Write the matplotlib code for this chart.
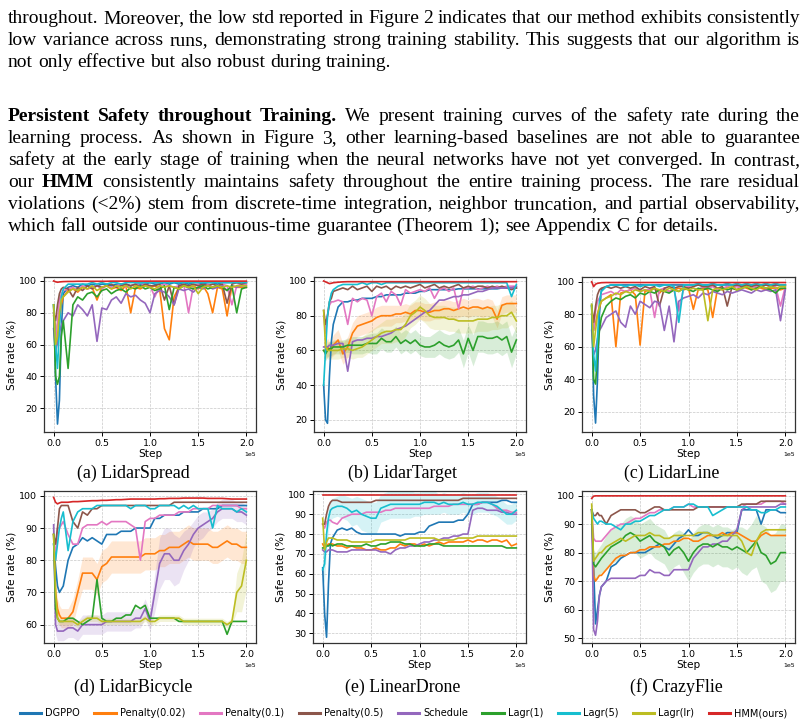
import numpy as np
import matplotlib
matplotlib.use("Agg")
import matplotlib.pyplot as plt

# ---------------- data ----------------
STEPS = [0, 2000, 4000, 6000, 8000] + list(range(10000, 200001, 5000))

METHODS = ["DGPPO", "Penalty(0.02)", "Penalty(0.1)", "Penalty(0.5)", "Schedule",
           "Lagr(1)", "Lagr(5)", "Lagr(lr)", "HMM(ours)"]
COLORS = ["#1f77b4", "#ff7f0e", "#e377c2", "#8c564b", "#9467bd",
          "#2ca02c", "#17becf", "#bcbd22", "#d62728"]
PANEL_TITLES = ["(a) LidarSpread", "(b) LidarTarget", "(c) LidarLine",
                "(d) LidarBicycle", "(e) LinearDrone", "(f) CrazyFlie"]
Y_TICKS = [[20, 40, 60, 80, 100], [20, 40, 60, 80, 100], [20, 40, 60, 80, 100],
           [60, 70, 80, 90, 100], [30, 40, 50, 60, 70, 80, 90, 100],
           [50, 60, 70, 80, 90, 100]]
Y_LIMS = [(5, 102.5), (13, 102.3), (7.5, 102.9), (54.3, 101.5), (25.1, 101.7), (48.3, 101.6)]

# (a) LidarSpread
A_DGPPO = [85, 40, 10, 25, 70, 92, 96, 97, 96, 98, 97,
           98, 97, 98, 98, 97, 98, 98, 98, 97, 98, 98,
           98, 99, 98, 98, 99, 98, 99, 98, 99, 98, 99,
           99, 98, 99, 99, 98, 99, 99, 99, 99, 99, 99]
A_P002 = [78, 72, 60, 75, 85, 90, 94, 95, 93, 96, 95,
          96, 88, 96, 97, 95, 96, 94, 97, 80, 96, 95,
          97, 96, 97, 95, 70, 63, 90, 96, 97, 96, 97,
          95, 97, 92, 80, 96, 95, 78, 97, 96, 96, 96]
A_P01 = [80, 60, 75, 88, 92, 94, 95, 96, 94, 97, 95,
         96, 97, 95, 97, 96, 97, 98, 96, 97, 98, 97,
         98, 97, 90, 97, 98, 97, 96, 97, 98, 80, 97,
         98, 97, 98, 96, 97, 98, 97, 85, 97, 98, 98]
A_P05 = [80, 75, 85, 92, 95, 96, 95, 90, 96, 94, 97,
         95, 97, 96, 97, 98, 96, 97, 98, 97, 98, 96,
         98, 97, 97, 98, 88, 97, 85, 97, 98, 97, 98,
         97, 98, 97, 98, 97, 98, 86, 98, 99, 98, 99]
A_SCH = [70, 55, 62, 68, 72, 75, 80, 78, 85, 82, 78,
         85, 62, 83, 82, 88, 90, 86, 92, 90, 91, 88,
         86, 80, 92, 94, 93, 90, 85, 95, 94, 95, 93,
         96, 95, 97, 95, 96, 97, 94, 97, 96, 97, 97]
A_L1 = [85, 40, 35, 40, 65, 75, 45, 85, 90, 88, 92,
        93, 90, 94, 95, 92, 94, 95, 93, 96, 95, 97,
        95, 96, 94, 95, 97, 82, 96, 95, 97, 96, 95,
        96, 97, 95, 96, 97, 96, 94, 97, 80, 95, 96]
A_L5 = [85, 60, 45, 70, 90, 95, 98, 98, 98, 98, 98,
        99, 98, 99, 98, 99, 99, 98, 99, 99, 99, 99,
        99, 99, 99, 99, 99, 99, 99, 99, 99, 99, 99,
        99, 99, 99, 99, 99, 99, 99, 99, 99, 99, 99]
A_LLR = [85, 60, 65, 80, 88, 90, 93, 95, 94, 96, 95,
         97, 94, 96, 97, 95, 97, 96, 97, 95, 97, 96,
         97, 96, 95, 97, 96, 97, 96, 95, 97, 96, 97,
         92, 96, 97, 96, 97, 96, 97, 96, 97, 97, 97]
A_HMM = [100, 99.5, 99.2, 99.4, 99.5, 99.6, 99.7, 99.7, 99.8, 99.8, 99.8,
         99.8, 99.8, 99.8, 99.8, 99.9, 99.9, 99.9, 99.9, 99.9, 99.9, 99.9,
         99.9, 99.9, 99.9, 99.9, 99.9, 99.9, 99.9, 99.9, 99.9, 99.9, 99.9,
         99.9, 99.9, 99.9, 99.9, 99.9, 99.9, 99.9, 99.9, 99.9, 99.9, 99.9]

# (b) LidarTarget
B_DGPPO = [40, 20, 18, 45, 65, 75, 85, 88, 88, 89, 89,
           90, 90, 90, 91, 91, 92, 92, 92, 92, 93, 93,
           93, 94, 94, 95, 95, 95, 95, 95, 95, 95.5, 95.5,
           95.5, 95.5, 95.5, 95.5, 95.5, 95.5, 95.5, 96, 96, 96, 96]
B_P002 = [60, 60, 62, 60, 61, 63, 66, 58, 62, 70, 74,
          75, 76, 77, 79, 80, 80, 80, 81, 81, 82, 81,
          83, 83, 82, 82, 83, 83, 84, 84, 83, 84, 85,
          84, 85, 85, 84, 85, 84, 78, 86, 87, 87, 87]
B_P01 = [80, 70, 80, 86, 88, 88, 89, 88, 75, 90, 88,
         90, 89, 80, 91, 93, 88, 94, 92, 86, 95, 93,
         94, 95, 94, 96, 90, 95, 96, 94, 96, 84, 96,
         96, 97, 95, 96, 97, 96, 97, 96, 97, 97, 97]
B_P05 = [83, 75, 80, 88, 90, 94, 95, 96, 95, 97, 95,
         96, 97, 94, 97, 96, 97, 95, 97, 96, 97, 96,
         97, 98, 96, 97, 98, 96, 97, 96, 97, 98, 96,
         97, 96, 97, 97, 96, 97, 96, 97, 96, 95, 96]
B_SCH = [62, 62, 62, 63, 63, 63, 64, 64, 48, 65, 66,
         66, 67, 67, 68, 68, 69, 70, 72, 73, 74, 76,
         78, 80, 82, 83, 86, 89, 89, 90, 91, 91, 92,
         92, 93, 94, 94, 95, 96, 96, 96, 96, 96, 97]
B_L1 = [60, 58, 60, 61, 61, 62, 62, 62, 63, 63, 63,
        63, 64, 64, 64, 67, 65, 65, 68, 64, 66, 64,
        66, 63, 62, 62, 63, 65, 63, 62, 63, 66, 58,
        67, 60, 68, 68, 67, 67, 68, 66, 68, 59, 66]
B_L5 = [40, 60, 80, 88, 93, 95, 97, 98, 98, 98, 98,
        99, 98, 99, 99, 98, 99, 99, 99, 99, 99, 99,
        99, 99, 99, 99, 99, 99, 99, 99, 99, 99, 99,
        99, 99, 99, 99, 99, 99, 99, 99, 99, 91, 98]
B_LLR = [83, 62, 60, 60, 60, 60, 60, 61, 61, 60, 61,
         62, 64, 66, 68, 70, 71, 71, 72, 72, 75, 80,
         82, 85, 83, 80, 79, 79, 79, 78, 78, 77, 77,
         77, 77, 78, 78, 78, 79, 79, 80, 80, 82, 77]
B_HMM = [100, 99.5, 99, 98.5, 98.7, 99, 99.3, 99.5, 99.6, 99.6, 99.6,
         99.6, 99.6, 99.6, 99.6, 99.6, 99.6, 99.6, 99.6, 99.6, 99.6, 99.6,
         99.6, 99.6, 99.6, 99.6, 99.6, 99.6, 99.6, 99.6, 99.6, 99.6, 99.6,
         99.6, 99.6, 99.6, 99.6, 99.6, 99.6, 99.6, 99.6, 99.6, 99.6, 99.6]
B_P002_STD = [5, 5, 5, 5, 5, 6, 6, 6, 6, 6, 6,
              6, 6, 6, 6, 6, 6, 6, 5, 5, 5, 5,
              5, 5, 5, 5, 5, 5, 5, 5, 5, 5, 5,
              5, 5, 5, 5, 5, 5, 5, 5, 5, 5, 5]
B_L1_STD = [3, 4, 4, 4, 4, 4, 4, 4, 4, 5, 5,
            5, 5, 6, 6, 6, 6, 6, 6, 6, 6, 6,
            6, 6, 6, 6, 7, 7, 7, 7, 7, 7, 8,
            8, 9, 9, 9, 9, 9, 9, 9, 9, 9, 8]
B_LLR_STD = [5, 5, 5, 5, 5, 5, 5, 5, 5, 5, 5,
             6, 6, 6, 6, 6, 7, 7, 7, 7, 7, 7,
             7, 7, 7, 7, 7, 7, 7, 7, 7, 7, 7,
             7, 7, 7, 7, 7, 7, 7, 7, 7, 7, 7]

# (c) LidarLine
C_DGPPO = [85, 30, 13, 40, 80, 95, 97, 98, 98, 98, 98,
           98, 98, 98, 98, 98, 98, 98, 98, 98, 98, 98,
           98, 98, 98, 98, 98, 98, 98, 98, 98, 98, 98,
           98, 98, 98, 98, 98, 98, 98, 98, 98, 98, 98]
C_P002 = [80, 70, 75, 80, 84, 88, 90, 92, 60, 93, 94,
          95, 92, 61, 94, 95, 96, 93, 96, 94, 95, 96,
          95, 96, 83, 95, 96, 95, 78, 96, 95, 97, 96,
          95, 97, 96, 95, 97, 96, 95, 96, 96, 95, 96]
C_P01 = [80, 70, 82, 88, 90, 92, 93, 94, 92, 95, 94,
         95, 96, 94, 95, 95, 78, 95, 96, 94, 95, 82,
         96, 97, 96, 95, 97, 96, 97, 95, 96, 97, 96,
         97, 96, 97, 96, 97, 97, 96, 97, 97, 85, 97]
C_P05 = [85, 75, 85, 92, 95, 96, 97, 96, 97, 96, 97,
         96, 97, 95, 97, 96, 97, 85, 96, 97, 96, 97,
         97, 96, 97, 98, 97, 97, 98, 96, 97, 85, 97,
         98, 97, 98, 97, 98, 97, 98, 97, 98, 98, 98]
C_SCH = [70, 55, 58, 65, 70, 72, 78, 80, 82, 75, 72,
         85, 80, 88, 86, 84, 88, 87, 70, 85, 63, 88,
         90, 91, 92, 90, 93, 92, 94, 93, 92, 94, 93,
         94, 95, 94, 93, 95, 94, 95, 94, 95, 76, 95]
C_L1 = [86, 40, 37, 55, 70, 78, 85, 88, 90, 89, 91,
        92, 90, 93, 92, 94, 93, 95, 94, 93, 95, 94,
        96, 95, 94, 96, 95, 96, 95, 94, 96, 95, 96,
        95, 96, 97, 95, 96, 97, 96, 95, 93, 96, 96]
C_L5 = [85, 55, 45, 65, 88, 94, 97, 98, 98, 98, 97,
        98, 98, 97, 98, 98, 98, 97, 98, 98, 97, 75,
        98, 98, 98, 99, 98, 98, 99, 98, 98, 99, 98,
        99, 98, 99, 98, 99, 98, 99, 98, 99, 98, 98]
C_LLR = [86, 60, 70, 80, 85, 88, 90, 91, 93, 92, 94,
         93, 95, 94, 95, 94, 96, 95, 94, 96, 95, 94,
         96, 95, 96, 95, 95, 76, 95, 96, 95, 96, 97,
         95, 96, 97, 96, 95, 97, 96, 97, 96, 97, 97]
C_HMM = [100, 97, 98.5, 99, 99.2, 99.4, 99.5, 99.5, 99.5, 99.5, 99.5,
         99.5, 99.5, 99.5, 99.5, 99.5, 99.5, 99.5, 99.5, 99.5, 99.5, 99.5,
         99.5, 99.5, 99.5, 99.5, 99.5, 99.5, 99.5, 99.5, 99.5, 99.5, 99.5,
         99.5, 99.5, 99.5, 99.5, 99.5, 99.5, 99.5, 99.5, 99.5, 99.5, 99.5]

# (d) LidarBicycle
D_DGPPO = [85, 78, 72, 70, 71, 72, 80, 84, 85, 87, 86,
           87, 86, 85, 88, 88, 88, 89, 89, 89, 90, 90,
           90, 90, 93, 93, 94, 94, 94, 94, 95, 95, 95,
           95, 96, 96, 96, 96, 97, 97, 97, 97, 97, 97]
D_P002 = [88, 70, 65, 63, 62, 62, 62, 64, 70, 76, 76,
          76, 74, 78, 79, 81, 81, 81, 81, 81, 81, 81,
          82, 82, 82, 83, 83, 84, 84, 84, 85, 86, 85,
          85, 85, 85, 84, 84, 85, 86, 85, 85, 84, 84]
D_P01 = [88, 80, 90, 90, 91, 92, 88, 85, 85, 90, 91,
         91, 91, 92, 91, 92, 92, 92, 92, 91, 90, 80,
         92, 93, 93, 94, 94, 94, 94, 95, 95, 95, 96,
         96, 96, 96, 97, 97, 97, 97, 97, 97, 96, 96]
D_P05 = [88, 85, 90, 96, 97, 97, 97, 92, 90, 95, 94,
         96, 96, 97, 97, 97, 97, 97, 97, 97, 97, 97,
         97, 97, 97, 97, 97, 97, 98, 98, 98, 98, 98,
         98, 98, 98, 98, 98, 98, 98, 98, 98, 98, 98]
D_SCH = [91, 60, 58, 58, 58, 58, 59, 59, 58, 60, 60,
         60, 60, 60, 61, 61, 61, 61, 61, 61, 62, 62,
         65, 61, 70, 79, 82, 82, 80, 80, 83, 85, 88,
         90, 91, 92, 93, 95, 96, 96, 96, 95, 95, 94]
D_L1 = [88, 65, 62, 61, 61, 61, 62, 62, 61, 60, 61,
        62, 74, 62, 61, 61, 62, 62, 63, 63, 66, 65,
        66, 62, 62, 62, 62, 62, 62, 61, 61, 61, 61,
        61, 61, 61, 61, 61, 61, 57, 61, 61, 61, 61]
D_L5 = [85, 80, 85, 90, 93, 95, 83, 92, 95, 96, 96,
        96, 97, 97, 97, 97, 97, 97, 97, 96, 97, 97,
        97, 96, 96, 97, 97, 97, 97, 96, 97, 96, 97,
        96, 96, 96, 90, 97, 96, 96, 96, 95, 96, 95]
D_LLR = [88, 70, 62, 61, 61, 61, 61, 61, 60, 61, 62,
         62, 62, 61, 61, 61, 61, 61, 61, 61, 61, 61,
         62, 61, 61, 62, 62, 62, 62, 62, 61, 61, 61,
         61, 61, 61, 61, 61, 61, 60, 61, 70, 72, 80]
D_HMM = [99.5, 98, 97.5, 97.8, 98, 98, 98, 98.2, 98.2, 98.3, 98.4,
         98.5, 98.5, 98.6, 98.6, 98.7, 98.8, 98.8, 98.9, 99, 99, 99,
         99, 99, 99, 99.1, 99.1, 99.2, 99.2, 99.2, 99.3, 99.3, 99.3,
         99.3, 99.3, 99.2, 99.2, 99.2, 99.2, 99.1, 99, 99, 99, 99]
D_P002_STD = [3, 3, 3, 3, 3, 3, 3, 4, 4, 5, 5,
              5, 5, 5, 5, 5, 5, 5, 5, 5, 5, 5,
              5, 5, 5, 5, 5, 5, 5, 5, 5, 5, 5,
              5, 5, 5, 5, 5, 5, 5, 5, 5, 5, 5]
D_SCH_STD = [2, 3, 3, 3, 3, 3, 3, 3, 3, 3, 3,
             3, 3, 3, 3, 3, 3, 3, 3, 3, 3, 3,
             3, 3, 6, 8, 8, 8, 8, 7, 6, 5, 4,
             4, 4, 3, 3, 3, 3, 3, 3, 3, 3, 3]
D_LLR_STD = [1, 2, 2, 1, 1, 1, 1, 1, 1, 1, 1,
             1, 1, 1, 1, 1, 1, 1, 1, 1, 1, 1,
             1, 1, 1, 1, 1, 1, 1, 1, 1, 1, 1,
             1, 1, 1, 1, 1, 1, 1, 1, 6, 8, 9]

# (e) LinearDrone
E_DGPPO = [63, 40, 28, 55, 75, 78, 82, 83, 82, 83, 81,
           80, 80, 80, 80, 80, 80, 80, 80, 79, 80, 80,
           80, 81, 81, 84, 85, 86, 86, 86, 86, 87, 87,
           90, 95, 95, 96, 96, 96, 96, 97, 97, 96, 96]
E_P002 = [75, 73, 74, 75, 75, 75, 74, 74, 73, 74, 73,
          73, 72, 72, 73, 72, 72, 73, 73, 75, 74, 75,
          75, 74, 75, 74, 75, 76, 75, 76, 76, 76, 76,
          77, 76, 77, 77, 76, 77, 77, 76, 77, 74, 75]
E_P01 = [85, 83, 86, 87, 87, 86, 85, 88, 89, 90, 90,
         90, 91, 91, 91, 91, 92, 92, 93, 93, 93, 93,
         93, 93, 93, 93, 94, 94, 94, 94, 95, 95, 95,
         95, 95, 95, 96, 96, 95, 93, 92, 92, 91, 91]
E_P05 = [85, 85, 90, 94, 96, 97, 97, 96, 96, 96, 96,
         96, 96, 96, 97, 97, 97, 97, 97, 97, 97, 97,
         97, 97, 97, 97, 97, 97, 97, 97, 97, 97, 98,
         98, 98, 98, 98, 98, 98, 98, 98, 98, 98, 98]
E_SCH = [72, 71, 71, 72, 72, 72, 71, 71, 71, 72, 72,
         72, 72, 72, 72, 71, 71, 70, 72, 73, 73, 74,
         74, 75, 76, 76, 77, 77, 78, 78, 79, 79, 80,
         80, 92, 93, 93, 92, 92, 92, 91, 91, 90, 90]
E_L1 = [73, 73, 74, 74, 75, 74, 75, 75, 74, 74, 74,
        74, 75, 74, 74, 75, 75, 76, 76, 76, 75, 75,
        74, 74, 74, 75, 75, 75, 74, 74, 74, 74, 74,
        74, 74, 74, 74, 74, 74, 74, 74, 73, 73, 73]
E_L5 = [62, 65, 80, 88, 92, 93, 94, 94, 93, 91, 92,
        90, 89, 88, 88, 93, 94, 95, 95, 95, 95, 95,
        95, 95, 96, 96, 96, 95, 96, 95, 95, 95, 96,
        95, 95, 96, 96, 96, 95, 94, 92, 90, 90, 92]
E_LLR = [88, 72, 76, 78, 78, 78, 77, 77, 77, 76, 76,
         76, 76, 76, 77, 77, 77, 77, 77, 77, 77, 78,
         78, 78, 78, 78, 78, 77, 77, 77, 77, 78, 78,
         78, 78, 79, 79, 79, 79, 79, 79, 79, 79, 79]
E_HMM = [99.9, 99.9, 99.9, 99.9, 99.9, 99.9, 99.9, 99.9, 99.9, 99.9, 99.9,
         99.9, 99.9, 99.9, 99.9, 99.9, 99.9, 99.9, 99.9, 99.9, 99.9, 99.9,
         99.9, 99.9, 99.9, 99.9, 99.9, 99.9, 99.9, 99.9, 99.9, 99.9, 99.9,
         99.9, 99.9, 99.9, 99.9, 99.9, 99.9, 99.9, 99.9, 99.9, 99.9, 99.9]
E_L5_STD = [8, 8, 8, 6, 5, 5, 5, 6, 6, 7, 7,
            8, 8, 8, 8, 7, 7, 7, 7, 7, 7, 7,
            6, 6, 6, 6, 6, 5, 5, 5, 5, 5, 5,
            5, 5, 5, 5, 5, 5, 5, 5, 5, 5, 5]

# (f) CrazyFlie
F_DGPPO = [95, 75, 55, 60, 65, 68, 70, 75, 76, 78, 79,
           80, 80, 80, 80, 81, 82, 83, 82, 81, 83, 85,
           86, 88, 86, 86, 87, 87, 86, 85, 86, 87, 87,
           87, 95, 95, 95, 95, 90, 95, 95, 95, 94, 94]
F_P002 = [95, 72, 70, 71, 72, 72, 74, 76, 78, 79, 79,
          80, 80, 81, 81, 82, 82, 82, 83, 83, 84, 84,
          85, 85, 84, 84, 85, 86, 86, 86, 87, 86, 87,
          87, 86, 85, 84, 84, 86, 87, 86, 86, 86, 86]
F_P01 = [95, 85, 84, 84, 84, 84, 86, 88, 89, 90, 90,
         91, 92, 92, 93, 94, 94, 95, 95, 95, 96, 96,
         96, 97, 96, 96, 96, 96, 96, 96, 96, 96, 96,
         96, 96, 97, 97, 97, 97, 98, 98, 98, 98, 97]
F_P05 = [95, 93, 93, 94, 93, 93, 90, 93, 94, 95, 95,
         95, 95, 94, 94, 95, 96, 96, 95, 95, 95, 95,
         95, 95, 95, 96, 96, 96, 96, 96, 96, 96, 96,
         96, 97, 97, 97, 97, 98, 98, 98, 98, 98, 98]
F_SCH = [95, 53, 51, 56, 65, 68, 70, 71, 71, 71, 71,
         71, 71, 72, 72, 74, 73, 73, 72, 72, 74, 74,
         74, 74, 78, 80, 82, 82, 83, 83, 84, 84, 86,
         88, 95, 96, 96, 96, 96, 96, 96, 96, 97, 97]
F_L1 = [95, 76, 75, 76, 77, 78, 80, 82, 83, 84, 86,
        87, 86, 84, 85, 86, 84, 83, 82, 79, 81, 82,
        80, 77, 80, 82, 83, 83, 82, 83, 82, 82, 81,
        82, 81, 80, 82, 84, 80, 79, 76, 77, 80, 80]
F_L5 = [95, 92, 91, 90, 91, 91, 90, 90, 89, 88, 90,
        90, 91, 91, 92, 93, 93, 94, 95, 95, 96, 96,
        96, 97, 97, 96, 96, 96, 93, 94, 95, 96, 96,
        96, 96, 96, 95, 95, 94, 94, 95, 95, 96, 96]
F_LLR = [97, 77, 78, 79, 80, 80, 82, 83, 84, 85, 84,
         85, 86, 86, 86, 87, 86, 86, 85, 85, 86, 86,
         86, 86, 86, 87, 87, 87, 86, 86, 86, 86, 86,
         86, 84, 80, 79, 84, 87, 88, 88, 88, 88, 88]
F_HMM = [99, 99.8, 99.9, 99.9, 99.9, 99.9, 99.9, 99.9, 99.9, 99.9, 99.9,
         99.9, 99.9, 99.9, 99.9, 99.9, 99.9, 99.9, 99.9, 99.9, 99.9, 99.9,
         99.9, 99.9, 99.9, 99.9, 99.9, 99.9, 99.9, 99.9, 99.9, 99.9, 99.9,
         99.9, 99.9, 99.9, 99.9, 99.9, 99.9, 99.9, 99.9, 99.9, 99.9, 99.9]
F_L1_STD = [4, 5, 5, 5, 5, 5, 6, 6, 6, 6, 6,
            6, 6, 6, 6, 6, 6, 6, 6, 6, 6, 6,
            7, 7, 7, 7, 7, 7, 7, 7, 7, 7, 7,
            7, 8, 8, 8, 9, 10, 10, 10, 10, 10, 10]

PANELS = [
    [A_DGPPO, A_P002, A_P01, A_P05, A_SCH, A_L1, A_L5, A_LLR, A_HMM],
    [B_DGPPO, B_P002, B_P01, B_P05, B_SCH, B_L1, B_L5, B_LLR, B_HMM],
    [C_DGPPO, C_P002, C_P01, C_P05, C_SCH, C_L1, C_L5, C_LLR, C_HMM],
    [D_DGPPO, D_P002, D_P01, D_P05, D_SCH, D_L1, D_L5, D_LLR, D_HMM],
    [E_DGPPO, E_P002, E_P01, E_P05, E_SCH, E_L1, E_L5, E_LLR, E_HMM],
    [F_DGPPO, F_P002, F_P01, F_P05, F_SCH, F_L1, F_L5, F_LLR, F_HMM],
]
BANDS = [
    {},
    {1: B_P002_STD, 5: B_L1_STD, 7: B_LLR_STD},
    {},
    {1: D_P002_STD, 4: D_SCH_STD, 7: D_LLR_STD},
    {6: E_L5_STD},
    {5: F_L1_STD},
]

PARAGRAPH_LINES = [
    "throughout. Moreover, the low std reported in Figure 2 indicates that our method exhibits consistently",
    "low variance across runs, demonstrating strong training stability. This suggests that our algorithm is",
    "not only effective but also robust during training.",
    "**Persistent Safety throughout Training.** We present training curves of the safety rate during the",
    "learning process. As shown in Figure 3, other learning-based baselines are not able to guarantee",
    "safety at the early stage of training when the neural networks have not yet converged. In contrast,",
    "our **HMM** consistently maintains safety throughout the entire training process. The rare residual",
    "violations (<2%) stem from discrete-time integration, neighbor truncation, and partial observability,",
    "which fall outside our continuous-time guarantee (Theorem 1); see Appendix C for details.",
]
LINE_BASELINES = [23, 45, 67, 121, 143, 165, 187, 209, 231]
LINE_JUSTIFY = [True, True, False, True, True, True, True, True, False]

# ---------------- figure ----------------
W, H, DPI = 807, 725, 100
fig = plt.figure(figsize=(W / DPI, H / DPI), dpi=DPI)
renderer = fig.canvas.get_renderer()

BODY_FS = 14.0
SERIF = "Liberation Serif"
X0, X1 = 8, 800


def parse_words(line):
    out, bold = [], False
    for tok in line.split():
        if tok.startswith("**"):
            bold = True
            tok = tok[2:]
        end_bold = tok.endswith("**")
        if end_bold:
            tok = tok[:-2]
        out.append((tok, bold))
        if end_bold:
            bold = False
    return out


for line, yb, just in zip(PARAGRAPH_LINES, LINE_BASELINES, LINE_JUSTIFY):
    words = parse_words(line)
    objs = [fig.text(0, 1 - yb / H, w, fontsize=BODY_FS, family=SERIF,
                     weight="bold" if b else "normal", va="baseline", ha="left")
            for w, b in words]
    widths = [t.get_window_extent(renderer).width for t in objs]
    if just:
        gap = (X1 - X0 - sum(widths)) / (len(objs) - 1)
    else:
        gap = BODY_FS * DPI / 72 * 0.25
    x = X0
    for t, wd in zip(objs, widths):
        t.set_x(x / W)
        x += wd + gap

AX_RECTS = [(44, 277, 256, 432), (314, 277, 526, 432), (582, 277, 795, 432),
            (44, 491, 256, 643), (313, 491, 526, 643), (582, 491, 795, 643)]
CAPTION_POS = [(133, 478), (403, 478), (672, 478), (133, 692), (403, 692), (676, 692)]

steps = np.array(STEPS, dtype=float)
handles = []
for p, (rect, series, bands) in enumerate(zip(AX_RECTS, PANELS, BANDS)):
    l, t, r, b = rect
    ax = fig.add_axes([l / W, 1 - b / H, (r - l) / W, (b - t) / H])
    for i, (vals, col) in enumerate(zip(series, COLORS)):
        v = np.array(vals, dtype=float)
        if i in bands:
            s = np.array(bands[i], dtype=float)
            ax.fill_between(steps, v - s, v + s, color=col, alpha=0.18, lw=0)
        ln, = ax.plot(steps, v, color=col, lw=1.2, label=METHODS[i])
        if p == 0:
            handles.append(ln)
    ax.set_xlim(-10000, 210000)
    ax.set_ylim(*Y_LIMS[p])
    ax.set_xticks([0, 50000, 100000, 150000, 200000])
    ax.set_yticks(Y_TICKS[p])
    ax.ticklabel_format(style="sci", axis="x", scilimits=(0, 0))
    ax.xaxis.get_offset_text().set_fontsize(4.5)
    ax.tick_params(labelsize=6.8, length=3, width=0.7, pad=2)
    ax.grid(True, ls="--", lw=0.5, color="#c8c8c8")
    ax.set_axisbelow(True)
    for sp in ax.spines.values():
        sp.set_linewidth(0.9)
        sp.set_color("#333333")
    ax.set_xlabel("Step", fontsize=7.6, labelpad=0.5)
    ax.set_ylabel("Safe rate (%)", fontsize=7.6, labelpad=2)
    cx, cy = CAPTION_POS[p]
    fig.text(cx / W, 1 - cy / H, PANEL_TITLES[p], fontsize=12.9, family=SERIF,
             ha="center", va="baseline")

leg_handles = [plt.Line2D([], [], color=c, lw=2.2) for c in COLORS]
fig.legend(leg_handles, METHODS, loc="center", bbox_to_anchor=(0.5, 1 - 713 / H),
           ncol=9, frameon=False, fontsize=7, handlelength=2.2, handletextpad=0.4,
           columnspacing=1.5, borderaxespad=0)

fig.savefig("out.png", dpi=DPI)
